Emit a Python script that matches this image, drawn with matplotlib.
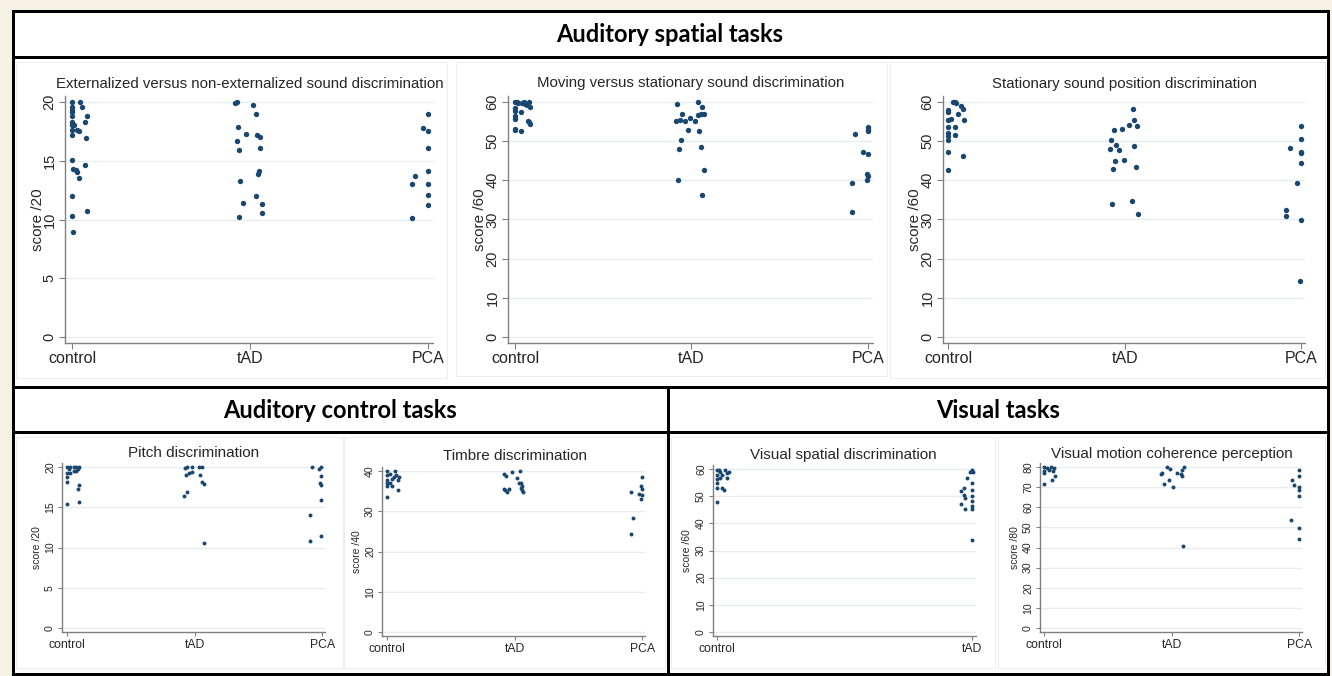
import matplotlib
matplotlib.use("Agg")
import matplotlib.pyplot as plt
from matplotlib.lines import Line2D
from matplotlib.patches import Rectangle
import numpy as np

W, H = 1332, 676

groups3 = ["control", "tAD", "PCA"]
groups2 = ["control", "tAD"]

# ---- Externalized versus non-externalized sound discrimination (score /20)
ext_control_y = [20, 19.6, 19.3, 19.1, 18.8, 18.3, 18.0, 17.6, 17.2, 18.0, 17.6, 17.5, 20, 19.6, 18.8, 18.3, 16.9, 15.1, 14.3, 14.2, 13.5, 14.0, 14.6, 12.0, 10.3, 10.7, 8.9]
ext_control_dx = [0, 0, 0, 0, 0, 0, 0, 0, 0, 0.01, 0.025, 0.037, 0.043, 0.056, 0.084, 0.075, 0.08, 0, 0.003, 0.02, 0.037, 0.03, 0.073, 0, 0, 0.084, 0.003]
ext_tad_y = [20, 19.9, 19.7, 18.95, 17.9, 17.3, 16.65, 17.2, 17.0, 15.9, 16.1, 14.1, 13.9, 13.3, 11.4, 12.0, 11.3, 10.2, 10.55]
ext_tad_dx = [-0.075, -0.082, 0.019, 0.037, -0.069, -0.022, -0.075, 0.039, 0.058, -0.064, 0.056, 0.052, 0.043, -0.054, -0.037, 0.034, 0.066, -0.064, 0.067]
ext_pca_y = [18.95, 17.8, 17.5, 16.1, 14.1, 13.7, 13.0, 13.0, 12.05, 11.25, 10.15]
ext_pca_dx = [0, -0.028, 0, 0, 0, -0.069, -0.088, 0, 0, 0, -0.088]

# ---- Moving versus stationary sound discrimination (score /60)
mov_control_y = [60, 59.6, 59.8, 59.4, 60, 58.7, 59.2, 58.5, 57.7, 57.5, 56.4, 55.6, 55.1, 54.4, 54.8, 53.2, 52.8, 52.6, 59.9, 59.9]
mov_control_dx = [0, 0.019, 0.038, 0.057, 0.079, 0.085, 0.07, 0, 0, 0.034, 0, 0, 0.075, 0.085, 0.08, 0, 0, 0.034, 0.01, 0.05]
mov_tad_y = [59.4, 60, 58.7, 57, 55.1, 55.3, 55.1, 56, 55, 56.6, 56.8, 57, 52.8, 52.7, 50.4, 47.9, 48.5, 42.5, 40, 36.3]
mov_tad_dx = [-0.079, 0.038, 0.062, -0.051, -0.089, -0.066, -0.038, -0.009, 0.023, 0.038, 0.057, 0.07, -0.021, 0.043, -0.06, -0.07, 0.057, 0.07, -0.076, 0.06]
mov_pca_y = [53.6, 52.7, 53.2, 51.7, 47.3, 46.6, 41.6, 41.0, 40.0, 39.3, 31.9]
mov_pca_dx = [0, 0, 0, -0.072, -0.025, 0, -0.006, 0, -0.006, -0.09, -0.09]

# ---- Stationary sound position discrimination (score /60)
sta_control_y = [57.9, 57.3, 60, 59.8, 59, 58.2, 57, 55.3, 55.3, 55.6, 53.6, 53.6, 52.1, 51.3, 50.3, 51.6, 47.3, 46.2, 42.5, 60]
sta_control_dx = [0, 0, 0.038, 0.047, 0.076, 0.085, 0.057, 0.089, 0, 0.019, 0, 0.038, 0, 0, 0, 0.038, 0, 0.085, 0, 0.028]
sta_tad_y = [58.2, 55.5, 53.9, 54.0, 53.2, 52.9, 50.3, 48.1, 48.9, 48.7, 47.6, 45.0, 45.2, 43.3, 43.0, 34.6, 34.0, 31.5]
sta_tad_dx = [0.045, 0.051, 0.07, 0.026, -0.015, -0.059, -0.076, -0.081, -0.047, 0.051, -0.034, -0.053, -0.004, 0.064, -0.064, 0.042, -0.072, 0.074]
sta_pca_y = [53.9, 50.6, 48.2, 47.3, 46.9, 44.4, 39.3, 32.5, 30.8, 29.9, 14.2]
sta_pca_dx = [0, 0, -0.066, 0, 0, 0, -0.025, -0.085, -0.085, 0, -0.006]

# ---- Pitch discrimination (score /20)
pit_control_y = [20, 19.8, 20, 20, 20, 19.75, 19.45, 19.25, 19.2, 19.5, 18.8, 20, 18.1, 17.8, 17.25, 15.4, 15.7]
pit_control_dx = [0, 0.013, 0.026, 0.052, 0.073, 0.086, 0.052, 0, 0.026, 0.073, 0, 0.091, 0, 0.091, 0.083, 0, 0.091]
pit_tad_y = [19.9, 20, 20, 20, 20, 19.05, 19.25, 19.35, 19.05, 18.1, 17.9, 16.85, 16.4, 10.5]
pit_tad_dx = [-0.073, -0.06, -0.021, 0.031, 0.057, -0.068, -0.047, -0.021, 0.044, 0.057, 0.07, -0.06, -0.081, 0.076]
pit_pca_y = [20, 19.75, 20, 18.9, 18.0, 17.8, 15.9, 14.1, 11.4, 10.85]
pit_pca_dx = [-0.078, -0.026, -0.008, -0.008, -0.016, -0.008, -0.008, -0.094, -0.008, -0.094]

# ---- Timbre discrimination (score /40)
tim_control_y = [40, 38.9, 37.7, 36.9, 36.2, 33.5, 39.3, 38.1, 36.9, 38.5, 40, 38.9, 38.5, 37.8, 36.2, 35.4]
tim_control_dx = [0, 0, 0, 0, 0, 0, 0.026, 0.039, 0.021, 0.052, 0.065, 0.073, 0.092, 0.084, 0.039, 0.084]
tim_tad_y = [39.3, 38.7, 39.8, 40, 38.3, 35.6, 35.2, 34.8, 35.6, 37, 36.9, 36.4, 35.9, 35.2, 34.8]
tim_tad_dx = [-0.086, -0.065, -0.021, 0.039, 0.018, -0.086, -0.073, -0.06, -0.047, 0.031, 0.045, 0.058, 0.045, 0.058, 0.065]
tim_pca_y = [38.5, 36.4, 35.6, 34.8, 34.4, 34.0, 33.1, 28.4, 24.3]
tim_pca_dx = [0, -0.013, -0.005, -0.086, -0.026, 0, -0.013, -0.071, -0.092]

# ---- Visual spatial discrimination (score /60)
vsp_control_y = [59.5, 57.9, 56.3, 55.0, 53.2, 48.0, 59.1, 57.9, 56.7, 59.5, 58.5, 59.1, 56.7, 53.0, 52.3, 59.7]
vsp_control_dx = [0, 0, 0, 0, 0, 0, 0.013, 0.02, 0.013, 0.033, 0.039, 0.046, 0.039, 0.02, 0.029, 0.007]
vsp_tad_y = [59.7, 59.1, 59.1, 56.7, 55.0, 52.0, 53.0, 52.3, 50.5, 49.3, 50.2, 48.4, 46.4, 45.2, 47.2, 45.2, 33.9]
vsp_tad_dx = [0, -0.007, 0.004, -0.02, 0, -0.043, -0.033, 0, -0.033, -0.026, 0, 0, 0, 0, -0.043, -0.029, 0]

# ---- Visual motion coherence perception (score /80)
vmo_control_y = [80, 77, 71.7, 79.5, 78.7, 80, 79.5, 78.2, 75.7, 73.4, 77.9]
vmo_control_dx = [0, 0, 0, 0.026, 0.039, 0.058, 0.079, 0.071, 0.089, 0.063, 0.005]
vmo_tad_y = [80, 79, 76.7, 77, 71.7, 73.4, 70, 77, 76.5, 78.7, 80, 75.7, 40.8]
vmo_tad_dx = [-0.034, -0.016, -0.086, -0.073, -0.06, -0.021, 0.013, 0.045, 0.071, 0.084, 0.1, 0.084, 0.089]
vmo_pca_y = [78.7, 75.4, 73.7, 71.2, 70, 68.7, 65.4, 53.7, 49.9, 44.1]
vmo_pca_dx = [0, 0, -0.058, -0.045, 0, 0, 0, -0.063, 0, 0]

section_titles = ["Auditory spatial tasks", "Auditory control tasks", "Visual tasks"]

MARK = "#1a476f"
GRID = "#e6ecef"
AXC = "#808080"
TXT = "#262626"
BG = "#f5f1e3"

plt.rcParams["font.family"] = ["Liberation Sans", "DejaVu Sans"]
fig = plt.figure(figsize=(W / 100, H / 100), dpi=100)
fig.patch.set_facecolor(BG)


def fline(x0, y0, x1, y1, lw=3.0, color="black"):
    fig.add_artist(Line2D([x0 / W, x1 / W], [1 - y0 / H, 1 - y1 / H],
                          color=color, lw=lw * 0.72, solid_capstyle="projecting"))


def frect(x0, y0, x1, y1, fc, ec=None, lw=1.0, z=0):
    fig.add_artist(Rectangle((x0 / W, 1 - y1 / H), (x1 - x0) / W, (y1 - y0) / H,
                             transform=fig.transFigure, facecolor=fc,
                             edgecolor=ec if ec else fc, lw=lw * 0.72, zorder=z))


# white content inside frame
frect(13, 11, 1328, 674, "white", z=0)
# faint Stata graph regions
for (x0, y0, x1, y1) in [(16, 62, 447, 378), (456, 62, 887, 376), (890, 62, 1325, 378),
                         (16, 437, 343, 668), (344, 437, 665, 668),
                         (671, 437, 995, 668), (998, 437, 1325, 668)]:
    frect(x0, y0, x1, y1, "white", ec="#e8eef1", lw=1.0, z=0.5)

panels = [
    dict(rect=(65, 433, 96, 343), ylim=(-0.5, 20.5), xlim=(0.96, 3.03), yticks=[0, 5, 10, 15, 20],
         title="Externalized versus non-externalized sound discrimination", tpos=(250, 84),
         ylabel="score /20", ylx=38, cats=groups3,
         data=[(ext_control_dx, ext_control_y), (ext_tad_dx, ext_tad_y), (ext_pca_dx, ext_pca_y)],
         big=True),
    dict(rect=(508, 873, 96, 343), ylim=(-1.5, 61.5), xlim=(0.96, 3.03), yticks=[0, 10, 20, 30, 40, 50, 60],
         title="Moving versus stationary sound discrimination", tpos=(691, 83),
         ylabel="score /60", ylx=480, cats=groups3,
         data=[(mov_control_dx, mov_control_y), (mov_tad_dx, mov_tad_y), (mov_pca_dx, mov_pca_y)],
         big=True),
    dict(rect=(943, 1305, 96, 343), ylim=(-1.5, 61.5), xlim=(0.972, 3.02), yticks=[0, 10, 20, 30, 40, 50, 60],
         title="Stationary sound position discrimination", tpos=(1125, 84),
         ylabel="score /60", ylx=915, cats=groups3,
         data=[(sta_control_dx, sta_control_y), (sta_tad_dx, sta_tad_y), (sta_pca_dx, sta_pca_y)],
         big=True),
    dict(rect=(62, 325, 463, 632), ylim=(-0.5, 20.5), xlim=(0.96, 3.02), yticks=[0, 5, 10, 15, 20],
         title="Pitch discrimination", tpos=(194, 453),
         ylabel="score /20", ylx=37, cats=groups3,
         data=[(pit_control_dx, pit_control_y), (pit_tad_dx, pit_tad_y), (pit_pca_dx, pit_pca_y)],
         big=False),
    dict(rect=(382, 645, 467, 636), ylim=(-1, 41), xlim=(0.96, 3.02), yticks=[0, 10, 20, 30, 40],
         title="Timbre discrimination", tpos=(515, 456),
         ylabel="score /40", ylx=357, cats=groups3,
         data=[(tim_control_dx, tim_control_y), (tim_tad_dx, tim_tad_y), (tim_pca_dx, tim_pca_y)],
         big=False),
    dict(rect=(713, 976, 465, 636), ylim=(-1.5, 61.5), xlim=(0.984, 2.016), yticks=[0, 10, 20, 30, 40, 50, 60],
         title="Visual spatial discrimination", tpos=(843, 455),
         ylabel="score /60", ylx=687, cats=groups2,
         data=[(vsp_control_dx, vsp_control_y), (vsp_tad_dx, vsp_tad_y)],
         big=False),
    dict(rect=(1040, 1302, 463, 632), ylim=(-2, 82), xlim=(0.97, 3.02), yticks=[0, 10, 20, 30, 40, 50, 60, 70, 80],
         title="Visual motion coherence perception", tpos=(1172, 454),
         ylabel="score /80", ylx=1015, cats=groups3,
         data=[(vmo_control_dx, vmo_control_y), (vmo_tad_dx, vmo_tad_y), (vmo_pca_dx, vmo_pca_y)],
         big=False),
]

for p in panels:
    l, r, t, b = p["rect"]
    ax = fig.add_axes([l / W, 1 - b / H, (r - l) / W, (b - t) / H])
    ax.set_facecolor("none")
    ax.set_zorder(2)
    big = p["big"]
    ms = 15 if big else 8
    for i, (dx, ys) in enumerate(p["data"]):
        xs = np.array(dx) + (i + 1)
        ax.scatter(xs, ys, s=ms, color=MARK, linewidths=0, zorder=3)
    ax.set_xlim(*p["xlim"])
    ax.set_ylim(*p["ylim"])
    ax.set_xticks(range(1, len(p["cats"]) + 1))
    ax.set_xticklabels(p["cats"])
    ax.set_yticks(p["yticks"])
    for s in ["top", "right"]:
        ax.spines[s].set_visible(False)
    for s in ["left", "bottom"]:
        ax.spines[s].set_color(AXC)
        ax.spines[s].set_linewidth(1.0)
    ax.yaxis.grid(True, color=GRID, lw=1.0)
    ax.set_axisbelow(True)
    xfs = 11.5 if big else 8.8
    yfs = 10.5 if big else 7.6
    ax.tick_params(axis="x", labelsize=xfs, colors=AXC, labelcolor=TXT, length=4 if big else 3, pad=2)
    ax.tick_params(axis="y", labelsize=yfs, colors=AXC, labelcolor=TXT, length=4 if big else 3,
                   labelrotation=90, pad=2)
    for lab in ax.get_yticklabels():
        lab.set_va("center")
    ax.set_ylabel(p["ylabel"], fontsize=11 if big else 7.5, color=TXT, va="center")
    ax.yaxis.set_label_coords((p["ylx"] - l) / (r - l), 0.5)
    tx, ty = p["tpos"]
    fig.text(tx / W, 1 - ty / H, p["title"], ha="center", va="center",
             fontsize=10.8 if big else 11, color=TXT, zorder=5)

# Section frames
fline(13, 11, 1328, 11)
fline(13, 674, 1328, 674)
fline(13, 11, 13, 674)
fline(1328, 11, 1328, 674)
fline(13, 57, 1328, 57)
fline(13, 387, 1328, 387)
fline(13, 432, 1328, 432)
fline(668, 387, 668, 674)

hdr = dict(ha="center", va="center", fontsize=17, fontweight="bold", color="black",
           family=["Lato", "DejaVu Sans"])
fig.text(670 / W, 1 - 34 / H, section_titles[0], **hdr)
fig.text(340 / W, 1 - 410 / H, section_titles[1], **hdr)
fig.text(998 / W, 1 - 410 / H, section_titles[2], **hdr)

fig.savefig("out.png", dpi=100, facecolor=fig.get_facecolor())
